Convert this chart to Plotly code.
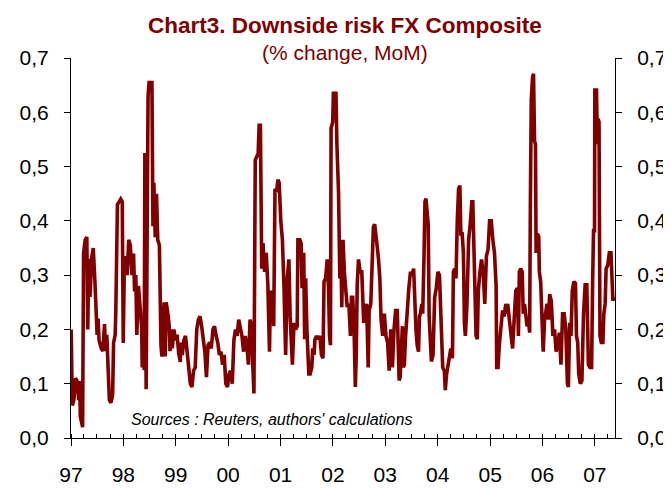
import pandas as pd
import plotly.graph_objects as go


# -----------------------------
# Data (decimal years)
# -----------------------------

t_97_98 = [
    1997.000, 1997.006, 1997.024, 1997.055, 1997.086, 1997.117, 1997.148, 1997.166,
    1997.178, 1997.209, 1997.222, 1997.240, 1997.271, 1997.302, 1997.320, 1997.339,
    1997.363, 1997.394, 1997.425, 1997.456, 1997.474, 1997.499, 1997.517, 1997.536,
    1997.579, 1997.610, 1997.640, 1997.659, 1997.684, 1997.702, 1997.733, 1997.764,
    1997.795, 1997.813, 1997.844, 1997.856, 1997.868, 1997.887, 1997.918, 1997.949,
    1997.979, 1997.998, 1998.016, 1998.041, 1998.072, 1998.103, 1998.133, 1998.164,
    1998.195, 1998.214, 1998.238, 1998.257, 1998.288, 1998.318, 1998.349, 1998.361,
    1998.380, 1998.398, 1998.411, 1998.435, 1998.454, 1998.472, 1998.491, 1998.546,
    1998.565, 1998.583, 1998.608, 1998.633, 1998.657, 1998.688, 1998.719, 1998.737,
    1998.756, 1998.780, 1998.799, 1998.817, 1998.842, 1998.873, 1998.891, 1998.916,
    1998.934, 1998.965, 1998.996, 1999.027, 1999.058, 1999.088,
]
v_97_98 = [
    0.200, 0.190, 0.060, 0.070, 0.110, 0.105, 0.070, 0.105,
    0.040, 0.020, 0.020, 0.340, 0.365, 0.370, 0.200, 0.330,
    0.260, 0.330, 0.350, 0.290, 0.235, 0.190, 0.220, 0.180,
    0.165, 0.160, 0.210, 0.160, 0.190, 0.130, 0.070, 0.065,
    0.080, 0.175, 0.190, 0.235, 0.365, 0.430, 0.435, 0.440,
    0.435, 0.175, 0.300, 0.335, 0.300, 0.365, 0.355, 0.300,
    0.340, 0.270, 0.300, 0.190, 0.280, 0.245, 0.205, 0.130,
    0.210, 0.125, 0.525, 0.090, 0.525, 0.630, 0.655, 0.655,
    0.390, 0.470, 0.370, 0.450, 0.365, 0.355, 0.170, 0.150,
    0.190, 0.250, 0.150, 0.250, 0.235, 0.210, 0.160, 0.200,
    0.165, 0.200, 0.180, 0.190, 0.155, 0.140,
]

t_99_00 = [
    1999.094, 1999.125, 1999.156, 1999.187, 1999.218, 1999.248, 1999.279, 1999.310,
    1999.341, 1999.372, 1999.402, 1999.433, 1999.464, 1999.495, 1999.526, 1999.557,
    1999.587, 1999.618, 1999.649, 1999.680, 1999.711, 1999.741, 1999.772, 1999.803,
    1999.834, 1999.865, 1999.895, 1999.926, 1999.957, 1999.988, 2000.019, 2000.049,
    2000.080, 2000.111, 2000.142, 2000.173, 2000.203, 2000.234, 2000.265, 2000.296,
    2000.327, 2000.358, 2000.388, 2000.419, 2000.450, 2000.468, 2000.493, 2000.518,
    2000.542, 2000.573, 2000.592, 2000.616, 2000.641, 2000.666, 2000.696, 2000.727,
    2000.758, 2000.789, 2000.807, 2000.832, 2000.850, 2000.869, 2000.894, 2000.924,
    2000.949, 2000.974, 2001.004, 2001.035, 2001.066, 2001.097, 2001.128, 2001.159,
]
v_99_00 = [
    0.176, 0.153, 0.180, 0.188, 0.159, 0.124, 0.100, 0.094,
    0.124, 0.130, 0.200, 0.218, 0.224, 0.206, 0.176, 0.159,
    0.112, 0.171, 0.176, 0.165, 0.200, 0.206, 0.188, 0.176,
    0.153, 0.159, 0.135, 0.153, 0.100, 0.094, 0.118, 0.124,
    0.100, 0.180, 0.200, 0.188, 0.218, 0.206, 0.188, 0.159,
    0.188, 0.171, 0.135, 0.218, 0.206, 0.141, 0.082, 0.512,
    0.518, 0.524, 0.576, 0.576, 0.312, 0.359, 0.306, 0.341,
    0.282, 0.159, 0.271, 0.265, 0.271, 0.206, 0.459, 0.453,
    0.476, 0.470, 0.400, 0.365, 0.276, 0.153, 0.294, 0.329,
]

t_01_02 = [
    2001.183, 2001.208, 2001.226, 2001.257, 2001.288, 2001.318, 2001.331, 2001.368,
    2001.392, 2001.411, 2001.442, 2001.460, 2001.479, 2001.503, 2001.522, 2001.540,
    2001.565, 2001.596, 2001.614, 2001.639, 2001.657, 2001.688, 2001.719, 2001.750,
    2001.781, 2001.811, 2001.830, 2001.861, 2001.891, 2001.916, 2001.935, 2001.953,
    2001.965, 2001.996, 2002.009, 2002.058, 2002.076, 2002.107, 2002.132, 2002.150,
    2002.169, 2002.193, 2002.218, 2002.243, 2002.273, 2002.304, 2002.335, 2002.354,
    2002.378, 2002.403, 2002.428, 2002.446, 2002.464, 2002.489, 2002.520, 2002.551,
    2002.569, 2002.588, 2002.612, 2002.643, 2002.674, 2002.692, 2002.723, 2002.748,
    2002.773, 2002.797, 2002.822, 2002.846, 2002.871, 2002.896, 2002.920, 2002.951,
    2002.982, 2003.013, 2003.044, 2003.074, 2003.105, 2003.136, 2003.167, 2003.198,
    2003.229,
]
v_01_02 = [
    0.224, 0.153, 0.135, 0.212, 0.200, 0.206, 0.365, 0.365,
    0.359, 0.276, 0.341, 0.182, 0.294, 0.200, 0.153, 0.118,
    0.118, 0.130, 0.165, 0.153, 0.182, 0.188, 0.182, 0.188,
    0.153, 0.147, 0.288, 0.294, 0.329, 0.276, 0.188, 0.171,
    0.571, 0.582, 0.635, 0.635, 0.541, 0.453, 0.294, 0.365,
    0.241, 0.365, 0.306, 0.282, 0.241, 0.247, 0.188, 0.259,
    0.259, 0.206, 0.094, 0.153, 0.282, 0.329, 0.306, 0.306,
    0.241, 0.212, 0.235, 0.247, 0.130, 0.235, 0.247, 0.353,
    0.388, 0.394, 0.365, 0.353, 0.329, 0.294, 0.218, 0.188,
    0.229, 0.188, 0.176, 0.124, 0.200, 0.130, 0.200, 0.235,
    0.235,
]

t_03_05 = [
    2003.247, 2003.265, 2003.284, 2003.302, 2003.327, 2003.345, 2003.364, 2003.388,
    2003.419, 2003.450, 2003.481, 2003.512, 2003.542, 2003.561, 2003.586, 2003.610,
    2003.635, 2003.653, 2003.672, 2003.697, 2003.715, 2003.740, 2003.758, 2003.777,
    2003.801, 2003.820, 2003.838, 2003.863, 2003.881, 2003.912, 2003.943, 2003.974,
    2004.005, 2004.035, 2004.066, 2004.097, 2004.128, 2004.146, 2004.171, 2004.189,
    2004.220, 2004.251, 2004.282, 2004.300, 2004.325, 2004.350, 2004.374, 2004.399,
    2004.424, 2004.442, 2004.467, 2004.491, 2004.510, 2004.528, 2004.559, 2004.590,
    2004.621, 2004.652, 2004.670, 2004.689, 2004.713, 2004.732, 2004.756, 2004.775,
    2004.806, 2004.836, 2004.867, 2004.898, 2004.929, 2004.960, 2004.990, 2005.021,
    2005.052, 2005.083, 2005.101, 2005.114, 2005.126, 2005.151, 2005.175, 2005.206,
    2005.237, 2005.268, 2005.299,
]
v_03_05 = [
    0.153, 0.106, 0.112, 0.171, 0.206, 0.130, 0.135, 0.188,
    0.247, 0.276, 0.306, 0.300, 0.312, 0.235, 0.200, 0.171,
    0.159, 0.224, 0.229, 0.247, 0.229, 0.335, 0.435, 0.441,
    0.412, 0.394, 0.224, 0.188, 0.141, 0.153, 0.259, 0.276,
    0.306, 0.300, 0.188, 0.130, 0.124, 0.088, 0.118, 0.130,
    0.153, 0.165, 0.147, 0.306, 0.312, 0.294, 0.400, 0.459,
    0.465, 0.376, 0.376, 0.341, 0.212, 0.188, 0.247, 0.365,
    0.394, 0.435, 0.435, 0.365, 0.259, 0.188, 0.182, 0.271,
    0.306, 0.329, 0.306, 0.247, 0.335, 0.347, 0.400, 0.400,
    0.365, 0.341, 0.306, 0.282, 0.130, 0.130, 0.171, 0.206,
    0.235, 0.224, 0.247,
]

t_05_07 = [
    2005.305, 2005.336, 2005.367, 2005.398, 2005.429, 2005.459, 2005.490, 2005.521,
    2005.540, 2005.558, 2005.583, 2005.613, 2005.632, 2005.657, 2005.681, 2005.706,
    2005.737, 2005.755, 2005.768, 2005.786, 2005.811, 2005.829, 2005.848, 2005.866,
    2005.878, 2005.903, 2005.928, 2005.940, 2005.965, 2005.989, 2006.014, 2006.039,
    2006.063, 2006.088, 2006.113, 2006.137, 2006.168, 2006.199, 2006.230, 2006.260,
    2006.291, 2006.322, 2006.353, 2006.384, 2006.414, 2006.445, 2006.476, 2006.495,
    2006.519, 2006.544, 2006.569, 2006.599, 2006.630, 2006.649, 2006.673, 2006.692,
    2006.723, 2006.753, 2006.784, 2006.815, 2006.846, 2006.864, 2006.877, 2006.907,
    2006.938, 2006.957, 2006.975, 2006.994, 2007.000, 2007.031, 2007.049, 2007.061,
    2007.080, 2007.098, 2007.123, 2007.154, 2007.172, 2007.197, 2007.215, 2007.246,
    2007.277, 2007.308, 2007.326, 2007.345, 2007.370,
]
v_05_07 = [
    0.229, 0.247, 0.218, 0.194, 0.165, 0.218, 0.271, 0.276,
    0.188, 0.306, 0.312, 0.306, 0.229, 0.247, 0.218, 0.206,
    0.212, 0.194, 0.424, 0.624, 0.665, 0.671, 0.547, 0.541,
    0.341, 0.376, 0.371, 0.306, 0.288, 0.206, 0.159, 0.218,
    0.235, 0.247, 0.218, 0.265, 0.253, 0.188, 0.200, 0.159,
    0.171, 0.194, 0.135, 0.229, 0.229, 0.200, 0.100, 0.094,
    0.212, 0.188, 0.271, 0.288, 0.285, 0.188, 0.176, 0.118,
    0.100, 0.106, 0.229, 0.282, 0.282, 0.188, 0.135, 0.130,
    0.130, 0.282, 0.382, 0.382, 0.641, 0.641, 0.541, 0.588,
    0.582, 0.188, 0.176, 0.176, 0.229, 0.247, 0.312, 0.318,
    0.341, 0.341, 0.306, 0.253, 0.260,
]

y_ticks = [0.0, 0.1, 0.2, 0.3, 0.4, 0.5, 0.6, 0.7]

TITLE = "Chart3. Downside risk FX Composite"
SUBTITLE = "(% change, MoM)"
SOURCE = "Sources : Reuters, authors' calculations"

MAROON = "#800000"
FONT = "Liberation Sans, Arial, sans-serif"


# -----------------------------
# Helpers
# -----------------------------

def to_date(y):
    year = int(y)
    start = pd.Timestamp(year=year, month=1, day=1)
    end = pd.Timestamp(year=year + 1, month=1, day=1)
    return start + (end - start) * (y - year)


years = t_97_98 + t_99_00 + t_01_02 + t_03_05 + t_05_07
values = v_97_98 + v_99_00 + v_01_02 + v_03_05 + v_05_07
dates = [to_date(y) for y in years]


# -----------------------------
# Figure
# -----------------------------

fig = go.Figure()

fig.add_trace(go.Scatter(
    x=dates,
    y=values,
    mode="lines",
    line=dict(color=MAROON, width=3.6),
    showlegend=False,
))

# same series on the right axis, invisible, so the axis gets drawn
fig.add_trace(go.Scatter(
    x=dates,
    y=values,
    yaxis="y2",
    mode="lines",
    line=dict(color="rgba(0,0,0,0)", width=0),
    hoverinfo="skip",
    showlegend=False,
))

yaxis_style = dict(
    range=[0, 0.7],
    tickvals=y_ticks,
    tickformat=".1f",
    ticks="outside",
    ticklen=6,
    tickcolor="black",
    showline=True,
    linecolor="black",
    linewidth=1,
    showgrid=False,
    zeroline=False,
    ticklabelstandoff=11,
    tickfont=dict(family=FONT, size=21, color="black"),
)

fig.update_layout(
    width=671,
    height=490,
    margin=dict(l=62, r=47, t=50, b=43),
    paper_bgcolor="white",
    plot_bgcolor="white",
    separators=", ",
    xaxis=dict(
        type="date",
        range=[to_date(1997.0), to_date(2007.385)],
        tick0="1997-01-01",
        dtick="M12",
        tickformat="%y",
        ticks="outside",
        ticklen=7,
        tickcolor="black",
        minor=dict(dtick="M3", tick0="1997-01-01", ticks="inside",
                   ticklen=4, tickcolor="black"),
        showline=True,
        linecolor="black",
        linewidth=1,
        showgrid=False,
        zeroline=False,
        ticklabelstandoff=11,
        tickfont=dict(family=FONT, size=21, color="black"),
    ),
    yaxis=yaxis_style,
    yaxis2=dict(yaxis_style, overlaying="y", side="right"),
    annotations=[
        dict(text="<b>" + TITLE + "</b>", xref="paper", yref="paper",
             x=0.504, y=1.085, xanchor="center", yanchor="middle",
             showarrow=False, font=dict(family=FONT, size=22.5, color=MAROON)),
        dict(text=SUBTITLE, xref="paper", yref="paper",
             x=0.504, y=1.015, xanchor="center", yanchor="middle",
             showarrow=False, font=dict(family=FONT, size=21, color=MAROON)),
        dict(text="<i>" + SOURCE + "</i>", xref="paper", yref="paper",
             x=0.106, y=0.048, xanchor="left", yanchor="middle",
             showarrow=False, font=dict(family=FONT, size=16, color="black")),
    ],
)

fig.write_html("out.html")
